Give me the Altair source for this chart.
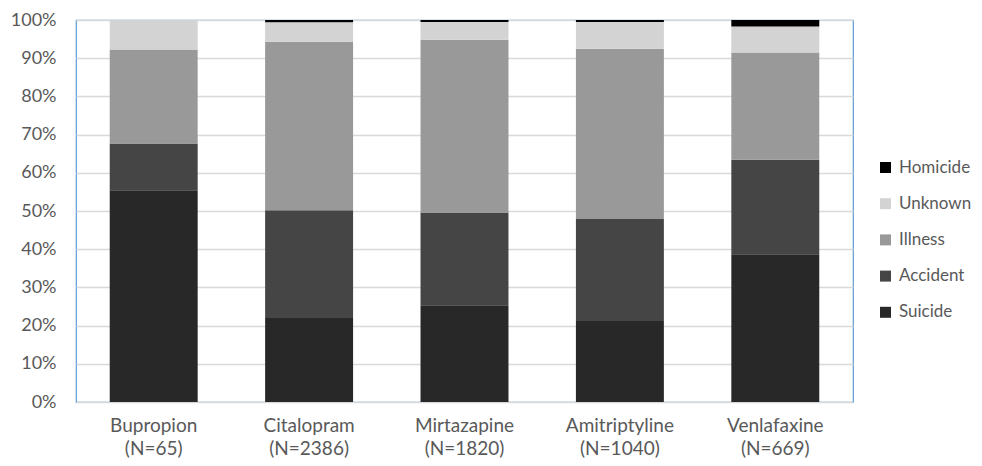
import altair as alt
import pandas as pd

drugs = ["Bupropion", "Citalopram", "Mirtazapine", "Amitriptyline", "Venlafaxine"]
n_values = [65, 2386, 1820, 1040, 669]
causes = ["Suicide", "Accident", "Illness", "Unknown", "Homicide"]
suicide = [55.4, 22.0, 25.3, 21.2, 38.7]
accident = [12.3, 28.2, 24.3, 26.7, 24.7]
illness = [24.6, 44.1, 45.2, 44.6, 28.1]
unknown = [7.7, 5.1, 4.7, 7.0, 6.8]
homicide = [0.0, 0.6, 0.5, 0.5, 1.7]

series = {"Suicide": suicide, "Accident": accident, "Illness": illness,
          "Unknown": unknown, "Homicide": homicide}
colors = {"Homicide": "#000000", "Unknown": "#d3d3d3", "Illness": "#999999",
          "Accident": "#454545", "Suicide": "#282828"}
legend_order = ["Homicide", "Unknown", "Illness", "Accident", "Suicide"]

rows = []
for i, d in enumerate(drugs):
    lab = f"{d}|(N={n_values[i]})"
    for k, c in enumerate(causes):
        rows.append({"drug": lab, "cause": c, "rank": k, "value": series[c][i] / 100})
df = pd.DataFrame(rows)
x_order = [f"{d}|(N={n})" for d, n in zip(drugs, n_values)]

FONT = "Lato"
chart = alt.Chart(df).mark_bar().encode(
    x=alt.X("drug:N", sort=x_order, title=None,
            scale=alt.Scale(paddingInner=0.434, paddingOuter=0.217),
            axis=alt.Axis(labelExpr="split(datum.label, '|')", labelAngle=0,
                          labelFontSize=19, labelColor="#595959", labelFont=FONT,
                          labelLineHeight=23, labelPadding=14, ticks=False,
                          domain=False, grid=False, labelBaseline="top")),
    y=alt.Y("value:Q", stack="zero", title=None,
            scale=alt.Scale(domain=[0, 1], nice=False, zero=True),
            axis=alt.Axis(format=".0%", values=[i / 10 for i in range(11)],
                          labelFontSize=18, labelColor="#595959", labelFont=FONT,
                          labelPadding=20, ticks=False, domain=False,
                          grid=True, gridColor="#d9d9d9", gridWidth=1.4)),
    color=alt.Color("cause:N", title=None,
                    scale=alt.Scale(domain=legend_order,
                                    range=[colors[c] for c in legend_order]),
                    legend=alt.Legend(orient="none", legendX=801, legendY=139,
                                      symbolType="square", symbolSize=121,
                                      symbolStrokeWidth=0, labelFontSize=17,
                                      labelFont=FONT, labelColor="#595959",
                                      labelOffset=5, rowPadding=18.2,
                                      labelLimit=200)),
    order=alt.Order("rank:Q", sort="ascending"),
).properties(
    width=777, height=382,
    autosize=alt.AutoSizeParams(type="none"),
    padding={"left": 68, "top": 12, "right": 121, "bottom": 56},
).configure_view(stroke="#5b9bd5", strokeWidth=1.2)

chart.save("out.html", embed_options={"renderer": "svg", "actions": False})
